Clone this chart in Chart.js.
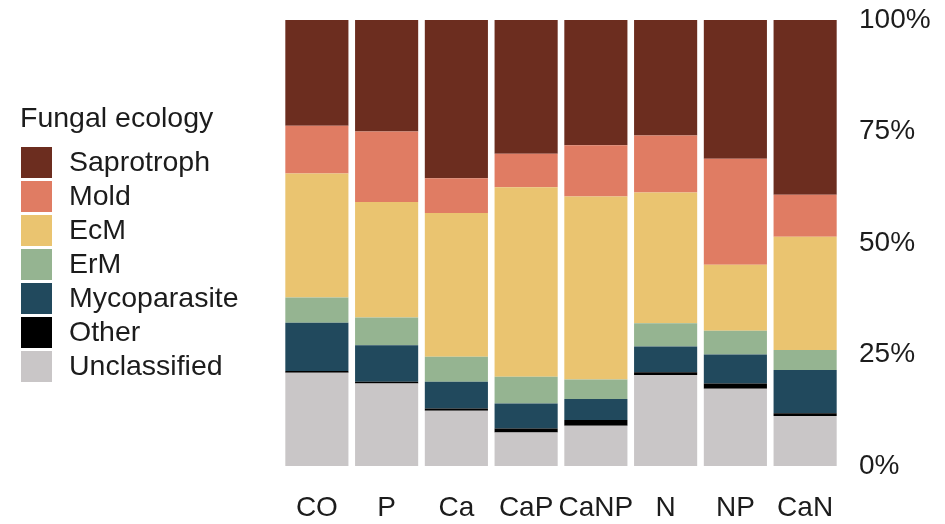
<!DOCTYPE html>
<html>
<head>
<meta charset="utf-8">
<title>Fungal ecology by treatment</title>
<script src="https://cdn.jsdelivr.net/npm/chart.js@4/dist/chart.umd.min.js"></script>
<style>
  html, body { margin: 0; padding: 0; background: #ffffff; }
  #wrap { width: 945px; height: 524px; }
</style>
</head>
<body>
<div id="wrap"><canvas id="chart" width="945" height="524"></canvas></div>
<script>
// Treatments along the x axis
const categories = ['CO', 'P', 'Ca', 'CaP', 'CaNP', 'N', 'NP', 'CaN'];

// Relative abundance (%) of each ecological guild per treatment
const unclassified = [20.9, 18.5, 12.4, 7.5, 9.0, 20.4, 17.3, 11.2];
const other        = [0.4, 0.4, 0.5, 0.9, 1.3, 0.6, 1.2, 0.6];
const mycoparasite = [10.8, 8.2, 6.0, 5.6, 4.7, 5.8, 6.5, 9.7];
const erm          = [5.7, 6.2, 5.6, 6.0, 4.4, 5.2, 5.3, 4.5];
const ecm          = [27.8, 25.9, 32.2, 42.5, 41.0, 29.3, 14.8, 25.4];
const mold         = [10.7, 15.8, 7.8, 7.5, 11.5, 12.8, 23.8, 9.4];
const saprotroph   = [23.7, 25.0, 35.5, 30.0, 28.1, 25.9, 31.1, 39.2];

// Percent axis ticks
const yTicks = [0, 25, 50, 75, 100];
const legendTitle = 'Fungal ecology';

const FONT = '"Liberation Sans", Arial, Helvetica, sans-serif';
const TEXT = '#1c1c1c';

// Legend drawn at the left of the plot, top guild first
const sideLegend = {
  id: 'sideLegend',
  afterDraw(chart) {
    const ctx = chart.ctx;
    ctx.save();
    ctx.font = '28.5px ' + FONT;
    ctx.textBaseline = 'middle';
    ctx.textAlign = 'left';
    ctx.fillStyle = TEXT;
    ctx.fillText(legendTitle, 20, 119);
    const items = chart.data.datasets.slice().reverse();
    items.forEach((ds, i) => {
      const y = 147 + i * 34;
      ctx.fillStyle = ds.backgroundColor;
      ctx.fillRect(21, y, 31, 31);
      ctx.fillStyle = TEXT;
      ctx.fillText(ds.label, 69, y + 16);
    });
    ctx.restore();
  }
};

const series = [
  { label: 'Unclassified', data: unclassified, color: '#c9c6c7' },
  { label: 'Other',        data: other,        color: '#000000' },
  { label: 'Mycoparasite', data: mycoparasite, color: '#21495d' },
  { label: 'ErM',          data: erm,          color: '#95b491' },
  { label: 'EcM',          data: ecm,          color: '#eac470' },
  { label: 'Mold',         data: mold,         color: '#e07c63' },
  { label: 'Saprotroph',   data: saprotroph,   color: '#6c2d1f' }
];

new Chart(document.getElementById('chart'), {
  type: 'bar',
  data: {
    labels: categories,
    datasets: series.map(s => ({
      label: s.label,
      data: s.data,
      backgroundColor: s.color,
      borderWidth: 0,
      barPercentage: 0.905,
      categoryPercentage: 1.0
    }))
  },
  options: {
    responsive: false,
    animation: false,
    events: [],
    layout: { padding: { left: 282, top: 20, right: 0, bottom: 0 } },
    plugins: {
      legend: { display: false },
      tooltip: { enabled: false }
    },
    scales: {
      x: {
        stacked: true,
        grid: { display: false, drawTicks: false },
        border: { display: false },
        ticks: {
          color: TEXT,
          font: { family: FONT, size: 28 },
          padding: 25,
          maxRotation: 0,
          autoSkip: false
        },
        afterFit(scale) { scale.height = 58; }
      },
      y: {
        stacked: true,
        position: 'right',
        min: 0,
        max: 100,
        grid: { display: false, drawTicks: false },
        border: { display: false },
        afterBuildTicks(scale) { scale.ticks = yTicks.map(v => ({ value: v })); },
        ticks: {
          color: TEXT,
          font: { family: FONT, size: 28 },
          padding: 19,
          callback: v => v + '%'
        },
        afterFit(scale) {
          scale.width = 105;
          scale.paddingTop = 0;
          scale.paddingBottom = 0;
        }
      }
    }
  },
  plugins: [sideLegend]
});
</script>
</body>
</html>
